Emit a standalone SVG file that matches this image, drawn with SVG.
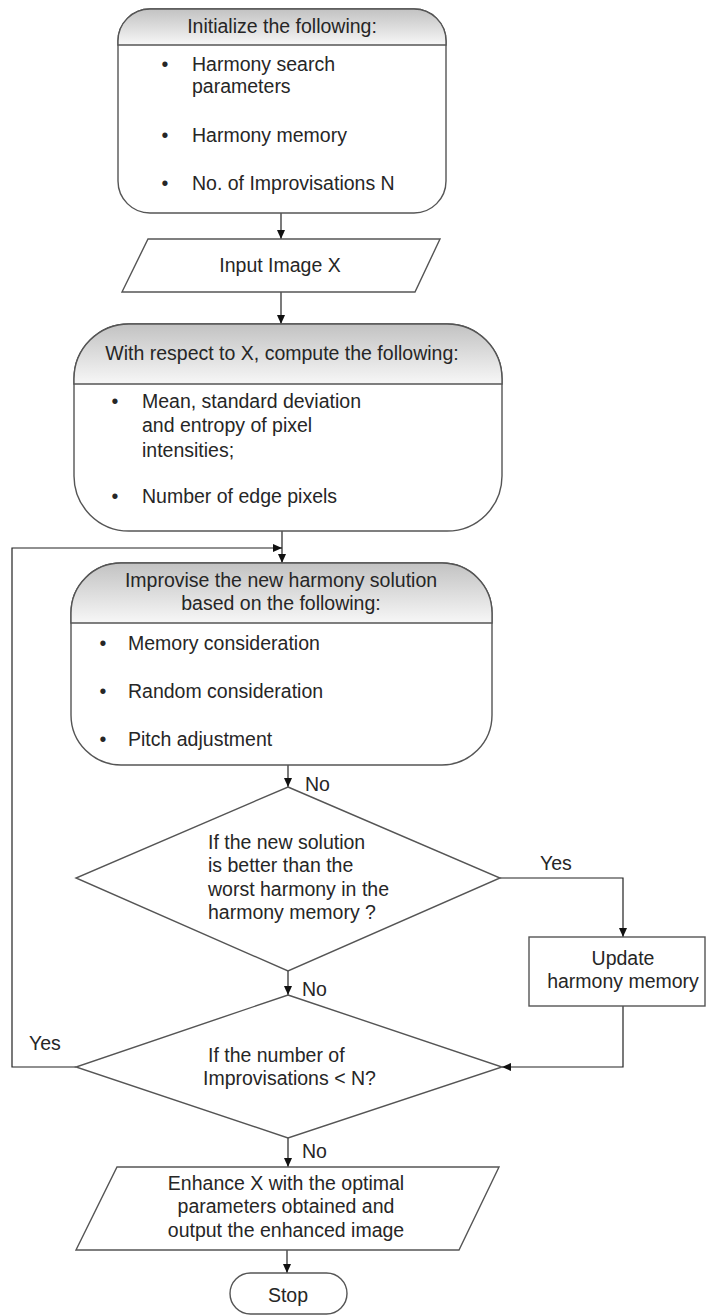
<svg xmlns="http://www.w3.org/2000/svg" width="706" height="1316" viewBox="0 0 706 1316">
<defs>
<linearGradient id="hdr" x1="0" y1="0" x2="0" y2="1">
<stop offset="0" stop-color="#c2c2c2"/>
<stop offset="1" stop-color="#f7f7f7"/>
</linearGradient>
<marker id="ah" markerWidth="9" markerHeight="8" refX="9" refY="4" orient="auto" markerUnits="userSpaceOnUse">
<path d="M0,0 L9,4 L0,8 z" fill="#111"/>
</marker>
</defs>
<style>
text{font-family:"Liberation Sans",Arial,Helvetica,sans-serif;font-size:19.5px;fill:#262626}
.c{text-anchor:middle}
.shape{fill:#fff;stroke:#555;stroke-width:1.4}
.hd{fill:url(#hdr);stroke:#555;stroke-width:1.4}
.con{fill:none;stroke:#222;stroke-width:1.2}
.arr{marker-end:url(#ah)}
</style>
<rect width="706" height="1316" fill="#fff"/>

<g id="connectors">
<path class="con arr" d="M281,213 L281,239"/>
<path class="con arr" d="M281,292 L281,324"/>
<path class="con arr" d="M282,531 L282,563"/>
<path class="con arr" d="M76,1067 L12,1067 L12,548 L282,548"/>
<path class="con arr" d="M288,765 L288,787"/>
<path class="con arr" d="M288,971 L288,995"/>
<path class="con arr" d="M500,878 L623,878 L623,937"/>
<path class="con arr" d="M623,1006 L623,1067 L502,1067"/>
<path class="con arr" d="M288,1138 L288,1167"/>
<path class="con arr" d="M287,1250 L287,1273"/>
<text x="305" y="791">No</text>
<text x="540" y="870">Yes</text>
<text x="302" y="996">No</text>
<text x="29" y="1050">Yes</text>
<text x="302" y="1158">No</text>
</g>

<g id="init">
<rect class="shape" x="118" y="9" width="328" height="204" rx="32" ry="32"/>
<path class="hd" d="M118,45 L118,41 A32,32 0 0 1 150,9 L414,9 A32,32 0 0 1 446,41 L446,45 Z"/>
<text class="c" x="282" y="33">Initialize the following:</text>
<text x="161.6" y="71">•</text>
<text x="192" y="71">Harmony search</text>
<text x="192" y="93">parameters</text>
<text x="161.6" y="142">•</text>
<text x="192" y="142">Harmony memory</text>
<text x="161.6" y="190">•</text>
<text x="192" y="190">No. of Improvisations N</text>
</g>

<g id="input">
<path class="shape" d="M148,239 L440,239 L415,292 L122,292 Z"/>
<text class="c" x="280" y="272">Input Image X</text>
</g>

<g id="compute">
<rect class="shape" x="74" y="324" width="428" height="207" rx="55" ry="55"/>
<path class="hd" d="M74,384 L74,379 A55,55 0 0 1 129,324 L447,324 A55,55 0 0 1 502,379 L502,384 Z"/>
<text class="c" x="282" y="360">With respect to X, compute the following:</text>
<text x="111.6" y="408">•</text>
<text x="142" y="408">Mean, standard deviation</text>
<text x="142" y="432">and entropy of pixel</text>
<text x="142" y="457">intensities;</text>
<text x="111.6" y="503">•</text>
<text x="142" y="503">Number of edge pixels</text>
</g>

<g id="improvise">
<rect class="shape" x="71" y="563" width="421" height="202" rx="50" ry="50"/>
<path class="hd" d="M71,623 L71,613 A50,50 0 0 1 121,563 L442,563 A50,50 0 0 1 492,613 L492,623 Z"/>
<text class="c" x="281" y="587">Improvise the new harmony solution</text>
<text class="c" x="281" y="610">based on the following:</text>
<text x="99.6" y="650">•</text>
<text x="128" y="650">Memory consideration</text>
<text x="99.6" y="698">•</text>
<text x="128" y="698">Random consideration</text>
<text x="99.6" y="746">•</text>
<text x="128" y="746">Pitch adjustment</text>
</g>

<g id="decision1">
<path class="shape" d="M288,787 L500,878 L288,971 L76,878 Z"/>
<text x="208" y="849">If the new solution</text>
<text x="208" y="872">is better than the</text>
<text x="208" y="896">worst harmony in the</text>
<text x="208" y="919">harmony memory ?</text>
</g>

<g id="update">
<rect class="shape" x="529" y="937" width="176" height="69"/>
<text class="c" x="623" y="965">Update</text>
<text class="c" x="623" y="988">harmony memory</text>
</g>

<g id="decision2">
<path class="shape" d="M288,995 L502,1067 L288,1138 L76,1067 Z"/>
<text x="208" y="1062">If the number of</text>
<text x="203" y="1085">Improvisations &lt; N?</text>
</g>

<g id="output">
<path class="shape" d="M117,1167 L499,1167 L459,1250 L76,1250 Z"/>
<text class="c" x="286" y="1190">Enhance X with the optimal</text>
<text class="c" x="286" y="1213">parameters obtained and</text>
<text class="c" x="286" y="1237">output the enhanced image</text>
</g>

<g id="stop">
<rect class="shape" x="230" y="1273" width="117" height="41" rx="20.5" ry="20.5"/>
<text class="c" x="288" y="1302">Stop</text>
</g>
</svg>
